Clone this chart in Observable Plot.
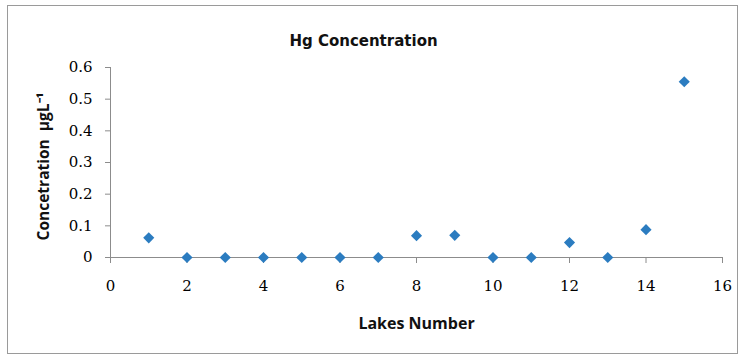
<!DOCTYPE html>
<html>
<head>
<meta charset="utf-8">
<script src="https://cdn.jsdelivr.net/npm/d3@7"></script>
<script src="https://cdn.jsdelivr.net/npm/@observablehq/plot@0.6"></script>
<style>
  html, body { margin: 0; padding: 0; background: #fff; }
  #wrap { position: relative; width: 741px; height: 356px; }
  #border { position: absolute; left: 7px; top: 5px; width: 729px; height: 347px; border: 1px solid #9a9a9a; pointer-events: none; }
</style>
</head>
<body>
<div id="wrap"><div id="border"></div></div>
<script>
const title = "Hg Concentration";
const xLabel = "Lakes Number";
const yLabel = "Concetration  μgL⁻¹";
const lakes = [1, 2, 3, 4, 5, 6, 7, 8, 9, 10, 11, 12, 13, 14, 15];
const hg = [0.062, 0, 0, 0, 0, 0, 0, 0.069, 0.07, 0, 0, 0.047, 0, 0.088, 0.555];
const xTicks = [0, 2, 4, 6, 8, 10, 12, 14, 16];
const yTicks = [0, 0.1, 0.2, 0.3, 0.4, 0.5, 0.6];

const data = lakes.map((l, i) => ({lake: l, hg: hg[i]}));

const chart = Plot.plot({
  width: 741,
  height: 356,
  marginLeft: 110,
  marginRight: 19,
  marginTop: 67,
  marginBottom: 99,
  style: {background: "transparent"},
  x: {domain: [0, 16]},
  y: {domain: [0, 0.6]},
  marks: [
    Plot.ruleX([0], {y1: 0, y2: 0.6, stroke: "#8c8c8c"}),
    Plot.ruleY([0], {x1: 0, x2: 16, stroke: "#8c8c8c"}),
    Plot.axisY(yTicks, {tickSize: 5, stroke: "#8c8c8c", tickFormat: () => "", label: null}),
    Plot.axisX(xTicks, {tickSize: 6, stroke: "#8c8c8c", tickFormat: () => "", label: null}),
    Plot.text(yTicks, {
      x: 0, y: d => d, text: d => d === 0 ? "0" : d3.format(".1f")(d),
      textAnchor: "end", dx: -18, fontSize: 15, fontFamily: "DejaVu Serif", fill: "#000"
    }),
    Plot.text(xTicks, {
      x: d => d, y: 0, text: d => String(d),
      dy: 29, fontSize: 15, fontFamily: "DejaVu Serif", fill: "#000"
    }),
    Plot.dot(data, {x: "lake", y: "hg", symbol: "diamond2", r: 5, fill: "#2b7cc0", stroke: "none"}),
    Plot.text([title], {frameAnchor: "top-left", textAnchor: "middle", dx: 253, dy: -32, fontSize: 15, fontWeight: "bold", fontFamily: "DejaVu Sans", fill: "#111"}),
    Plot.text([xLabel], {frameAnchor: "bottom", textAnchor: "middle", dx: 0, dy: 71, fontSize: 16, fontWeight: "bold", fontFamily: "Open Sans", fill: "#111"}),
    Plot.text([yLabel], {frameAnchor: "left", textAnchor: "middle", dx: -66, dy: 4, rotate: -90, fontSize: 15.5, fontWeight: "bold", fontFamily: "Open Sans", fill: "#111"})
  ]
});
document.getElementById("wrap").appendChild(chart);
</script>
</body>
</html>
